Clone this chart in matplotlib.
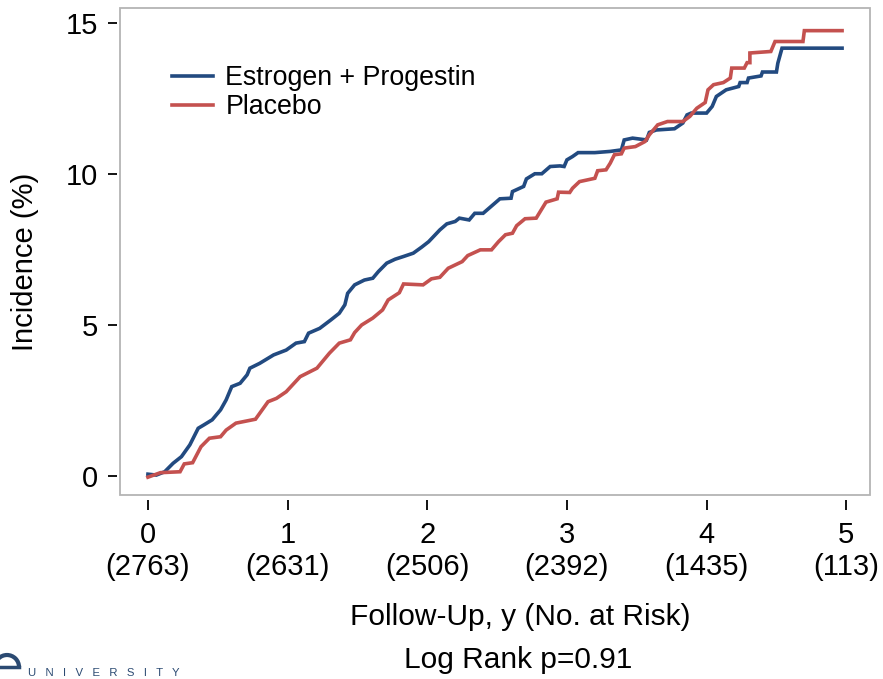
import matplotlib as mpl
mpl.use("Agg")
import matplotlib.pyplot as plt
from matplotlib.patches import Rectangle, Arc
from matplotlib.lines import Line2D

plt.rcParams['font.family'] = ['Liberation Sans', 'DejaVu Sans']

# follow-up (years) and cumulative incidence (%)
ep_years = [0.00, 0.06, 0.12, 0.18, 0.24, 0.30, 0.36, 0.40, 0.46, 0.52, 0.56, 0.60,
            0.66, 0.71, 0.73, 0.80, 0.90, 0.99, 1.06, 1.12, 1.15, 1.23, 1.31, 1.37,
            1.41, 1.43, 1.48, 1.55, 1.61, 1.65, 1.71, 1.77, 1.83, 1.90, 1.96, 2.01,
            2.09, 2.14, 2.20, 2.23, 2.30, 2.34, 2.40, 2.47, 2.52, 2.60, 2.61, 2.69,
            2.71, 2.77, 2.82, 2.88, 2.95, 2.98, 3.00, 3.04, 3.08, 3.20, 3.31, 3.39,
            3.41, 3.47, 3.57, 3.59, 3.64, 3.77, 3.83, 3.86, 3.89, 4.00, 4.04, 4.07,
            4.14, 4.23, 4.24, 4.29, 4.30, 4.39, 4.40, 4.50, 4.51, 4.54, 4.97]
ep_inc = [0.06, 0.03, 0.14, 0.42, 0.64, 1.03, 1.58, 1.69, 1.86, 2.19, 2.52, 2.96,
          3.07, 3.35, 3.57, 3.73, 4.01, 4.17, 4.40, 4.45, 4.73, 4.89, 5.17, 5.39,
          5.67, 6.05, 6.33, 6.49, 6.55, 6.77, 7.05, 7.18, 7.27, 7.38, 7.58, 7.76,
          8.15, 8.35, 8.43, 8.54, 8.48, 8.70, 8.70, 8.98, 9.18, 9.20, 9.42, 9.59,
          9.84, 10.01, 10.01, 10.25, 10.27, 10.25, 10.47, 10.58, 10.71, 10.71, 10.75, 10.80,
          11.13, 11.19, 11.13, 11.38, 11.46, 11.50, 11.69, 11.96, 12.02, 12.02, 12.24, 12.57,
          12.79, 12.90, 13.03, 13.03, 13.18, 13.25, 13.38, 13.38, 13.67, 14.17, 14.17]

pl_years = [0.00, 0.09, 0.23, 0.26, 0.32, 0.38, 0.44, 0.52, 0.56, 0.63, 0.77, 0.86,
            0.92, 0.99, 1.09, 1.21, 1.30, 1.37, 1.45, 1.48, 1.53, 1.61, 1.68, 1.72,
            1.80, 1.83, 1.97, 2.03, 2.09, 2.15, 2.25, 2.29, 2.38, 2.46, 2.51, 2.56,
            2.61, 2.64, 2.70, 2.78, 2.85, 2.93, 2.94, 3.02, 3.04, 3.09, 3.20, 3.22,
            3.28, 3.31, 3.34, 3.39, 3.41, 3.49, 3.56, 3.59, 3.65, 3.72, 3.83, 3.88,
            3.93, 3.99, 4.01, 4.05, 4.12, 4.17, 4.18, 4.27, 4.29, 4.31, 4.31, 4.46,
            4.49, 4.69, 4.70, 4.97]
pl_inc = [-0.04, 0.11, 0.14, 0.40, 0.44, 0.97, 1.25, 1.30, 1.52, 1.75, 1.88, 2.46,
          2.57, 2.79, 3.29, 3.57, 4.07, 4.40, 4.51, 4.75, 5.00, 5.23, 5.50, 5.83,
          6.07, 6.36, 6.33, 6.53, 6.58, 6.88, 7.10, 7.30, 7.49, 7.49, 7.76, 7.99,
          8.04, 8.29, 8.52, 8.54, 9.07, 9.18, 9.40, 9.39, 9.53, 9.75, 9.86, 10.11,
          10.14, 10.36, 10.64, 10.67, 10.86, 10.91, 11.08, 11.30, 11.63, 11.74, 11.74, 11.91,
          12.18, 12.37, 12.79, 12.96, 13.03, 13.18, 13.51, 13.51, 13.69, 13.69, 14.01, 14.06,
          14.39, 14.39, 14.75, 14.75]

x_ticks = [0, 1, 2, 3, 4, 5]
at_risk = [2763, 2631, 2506, 2392, 1435, 113]
y_ticks = [0, 5, 10, 15]

blue = '#224a80'
red = '#c4514f'
logo = '#2b4a72'

W, H = 883, 679
fig = plt.figure(figsize=(W / 100, H / 100), dpi=100)
ax = fig.add_axes([120 / W, 1 - 495 / H, 750 / W, 487 / H])

ax.plot(ep_years, ep_inc, color=blue, lw=2.6, label='Estrogen + Progestin',
        solid_joinstyle='miter')
ax.plot(pl_years, pl_inc, color=red, lw=2.6, label='Placebo',
        solid_joinstyle='miter')

ax.set_xlim(-0.2, 5.17)
ax.set_ylim(-0.63, 15.5)
ax.set_xticks(x_ticks)
ax.set_xticklabels(['%d\n(%d)' % (t, n) for t, n in zip(x_ticks, at_risk)],
                   linespacing=1.05)
ax.set_yticks(y_ticks)

for s in ax.spines.values():
    s.set_color('none')
ax.spines['bottom'].set_position(('outward', 3.6))
ax.spines['left'].set_position(('outward', 2.2))
ax.add_patch(Rectangle((0, 0), 1, 1, transform=ax.transAxes, fill=False,
                       edgecolor='#b4b4b4', lw=1.3, clip_on=False, zorder=5))

ax.tick_params(axis='x', length=7, width=1.3, pad=8, labelsize=21)
ax.tick_params(axis='y', length=6.5, width=1.3, pad=7, labelsize=21)

ax.legend(loc='upper left', bbox_to_anchor=(0.069, 0.882), frameon=False,
          fontsize=19.3, handlelength=1.55, handletextpad=0.45, labelspacing=0.1,
          borderpad=0, borderaxespad=0)

fig.text(25 / W, 1 - 262 / H, 'Incidence (%)', rotation=90, fontsize=21,
         ha='center', va='center')
fig.text(520 / W, 1 - 617 / H, 'Follow-Up, y (No. at Risk)', fontsize=21.5,
         ha='center', va='center')
fig.text(518 / W, 1 - 660 / H, 'Log Rank p=0.91', fontsize=21.5,
         ha='center', va='center')

# cropped logo remnant in the corner
fig.text(28 / W, 1 - 673 / H, '   '.join('UNIVERSITY'), fontsize=8.2,
         color=logo, ha='left', va='center')
fig.add_artist(Arc((7 / W, 1 - 667 / H), 24 / W, 24 / H, theta1=0, theta2=180,
                   color=logo, lw=3, transform=fig.transFigure))
fig.add_artist(Line2D([0, 19 / W], [1 - 667 / H, 1 - 667 / H], color=logo, lw=2.5,
                      transform=fig.transFigure))

fig.savefig('out.png', dpi=100)
